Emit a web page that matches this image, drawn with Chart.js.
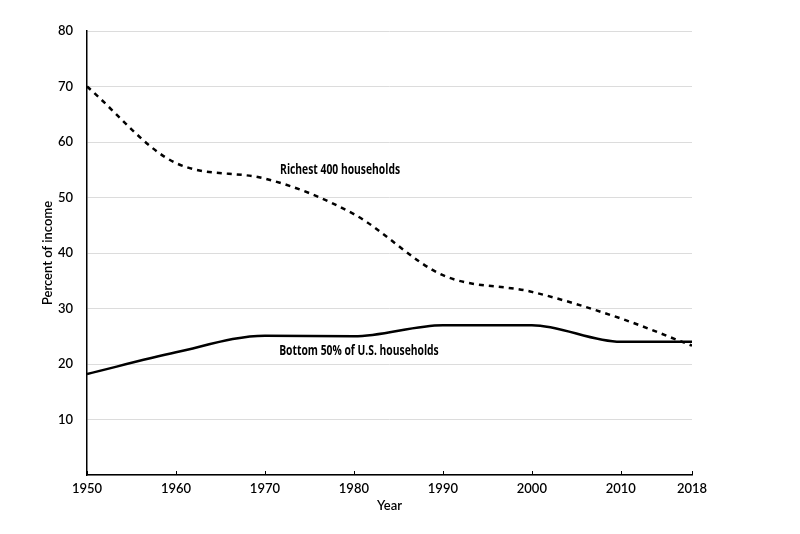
<!DOCTYPE html>
<html>
<head>
<meta charset="utf-8">
<script src="https://cdn.jsdelivr.net/npm/chart.js@4"></script>
<style>
  body { margin: 0; background: #fff; }
  #wrap { width: 800px; height: 534px; }
</style>
</head>
<body>
<div id="wrap"><canvas id="myChart" width="800" height="534"></canvas></div>
<script>
// datos
const years = [1950, 1960, 1970, 1980, 1990, 2000, 2010, 2018];
const richest400 = [70, 56.2, 53.4, 47, 36, 33, 28.2, 23.3];
const bottom50 = [18.2, 22.1, 25.1, 25, 27, 27, 24, 24];
const xTicks = [1950, 1960, 1970, 1980, 1990, 2000, 2010, 2018];
const yTicks = [10, 20, 30, 40, 50, 60, 70, 80];

const labelFont = '700 13.5px "Open Sans", sans-serif';
const tickFont = { family: 'Lato, "Open Sans", sans-serif', size: 13, weight: '600' };

function toPoints(ys) {
  return years.map((x, i) => ({ x: x, y: ys[i] }));
}

// texto estrecho (la fuente original es condensada)
function narrowText(ctx, txt, x, y, k) {
  ctx.save();
  ctx.translate(x, y);
  ctx.scale(k, 1);
  ctx.fillText(txt, 0, 0);
  ctx.restore();
}

// etiquetas de las series + marcas del eje x
const extras = {
  id: 'extras',
  afterDatasetsDraw(chart) {
    const ctx = chart.ctx;
    const sx = chart.scales.x, sy = chart.scales.y;
    ctx.save();
    // marcas hacia dentro en el eje x
    ctx.strokeStyle = '#000';
    ctx.lineWidth = 1;
    xTicks.forEach(v => {
      const px = Math.round(sx.getPixelForValue(v)) + 0.5;
      ctx.beginPath();
      ctx.moveTo(px, sy.bottom);
      ctx.lineTo(px, sy.bottom - 4);
      ctx.stroke();
    });
    ctx.font = labelFont;
    ctx.textBaseline = 'middle';
    ctx.textAlign = 'left';
    const k = 120 / ctx.measureText('Richest 400 households').width;
    // Richest 400
    let px = sx.getPixelForValue(1971.7), py = sy.getPixelForValue(55);
    ctx.fillStyle = '#000';
    narrowText(ctx, 'Richest 400 households', px, py, k);
    // Bottom 50% con fondo blanco
    px = sx.getPixelForValue(1971.6); py = sy.getPixelForValue(22.3);
    const w = ctx.measureText('Bottom 50% of U.S. households').width * k;
    ctx.fillStyle = '#fff';
    ctx.fillRect(px - 5, py - 9, w + 8, 18);
    ctx.fillStyle = '#000';
    narrowText(ctx, 'Bottom 50% of U.S. households', px, py, k);
    ctx.restore();
  }
};

const ctx = document.getElementById('myChart').getContext('2d');
window.chart = new Chart(ctx, {
  type: 'line',
  data: {
    datasets: [
      {
        label: 'Richest 400 households',
        data: toPoints(richest400),
        borderColor: '#000',
        borderWidth: 2.5,
        borderDash: [5, 5],
        pointRadius: 0,
        cubicInterpolationMode: 'monotone',
        fill: false
      },
      {
        label: 'Bottom 50% of U.S. households',
        data: toPoints(bottom50),
        borderColor: '#000',
        borderWidth: 2.5,
        pointRadius: 0,
        cubicInterpolationMode: 'monotone',
        fill: false
      }
    ]
  },
  options: {
    responsive: false,
    animation: false,
    layout: { padding: { left: 36, right: 108, top: 31, bottom: 16 } },
    plugins: { legend: { display: false }, tooltip: { enabled: false } },
    scales: {
      x: {
        type: 'linear',
        min: 1950,
        max: 2018,
        afterBuildTicks: s => { s.ticks = xTicks.map(v => ({ value: v })); },
        ticks: { color: '#000', font: tickFont, callback: v => String(v), padding: 6, maxRotation: 0 },
        grid: { display: false, drawTicks: false },
        border: { color: '#000', width: 1.5 },
        title: { display: true, text: 'Year', color: '#000', font: tickFont, padding: { top: 4 } },
        afterFit: s => { s.height = 43; }
      },
      y: {
        min: 0,
        max: 80,
        afterBuildTicks: s => { s.ticks = [0].concat(yTicks).map(v => ({ value: v })); },
        ticks: { color: '#000', font: tickFont, padding: 14, callback: v => v === 0 ? '' : String(v) },
        grid: { color: '#dcdcdc', lineWidth: 1, drawTicks: false },
        border: { color: '#000', width: 1.5 },
        title: { display: true, text: 'Percent of income', color: '#000', font: tickFont },
        afterFit: s => { s.width = 51; }
      }
    }
  },
  plugins: [extras]
});
</script>
</body>
</html>
